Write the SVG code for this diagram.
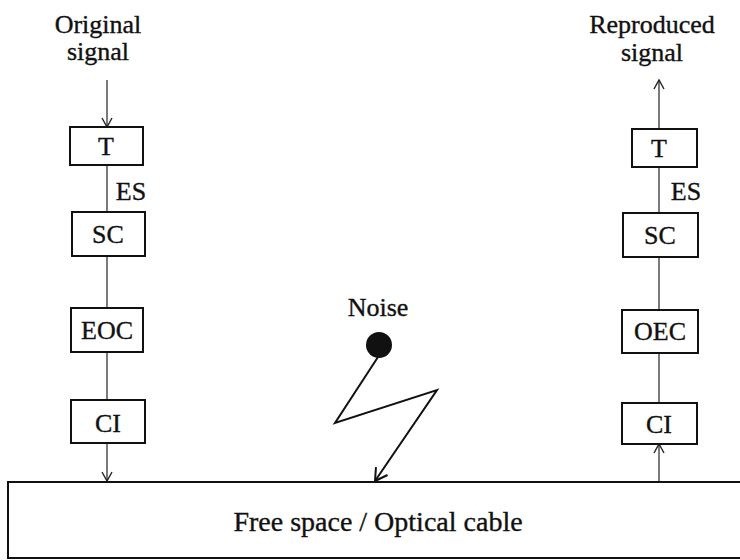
<svg xmlns="http://www.w3.org/2000/svg" width="740" height="560" viewBox="0 0 740 560">
<style>
text{font-family:"Liberation Serif","Times New Roman",serif;fill:#111;stroke:#111;stroke-width:0.35;text-anchor:middle;font-size:26px}
.box{fill:#fff;stroke:#111;stroke-width:2}
.ln{stroke:#333;stroke-width:1.3;fill:none}
</style>
<defs>
<marker id="ah" markerWidth="12" markerHeight="12" refX="10" refY="6" orient="auto" markerUnits="userSpaceOnUse">
<path d="M1,1 L10,6 L1,11" fill="none" stroke="#222" stroke-width="1.4"/>
</marker>
<marker id="ah2" markerWidth="16" markerHeight="16" refX="13" refY="8" orient="auto" markerUnits="userSpaceOnUse">
<path d="M1,1 L13,8 L1,15" fill="none" stroke="#111" stroke-width="2"/>
</marker>
</defs>
<rect width="740" height="560" fill="#fff"/>
<g id="connectors">
<line class="ln" x1="107" y1="80" x2="107" y2="127" marker-end="url(#ah)"/>
<line class="ln" x1="107" y1="165" x2="107" y2="212"/>
<line class="ln" x1="107" y1="256" x2="107" y2="308"/>
<line class="ln" x1="107" y1="352" x2="107" y2="400"/>
<line class="ln" x1="107" y1="443" x2="107" y2="481" marker-end="url(#ah)"/>
<line class="ln" x1="659" y1="129" x2="659" y2="80" marker-end="url(#ah)"/>
<line class="ln" x1="659" y1="213" x2="659" y2="167"/>
<line class="ln" x1="659" y1="310" x2="659" y2="257"/>
<line class="ln" x1="659" y1="403" x2="659" y2="353"/>
<line class="ln" x1="659" y1="482" x2="659" y2="444" marker-end="url(#ah)"/>
<polyline points="378,357 335,423 437,390 375,481" fill="none" stroke="#111" stroke-width="2" marker-end="url(#ah2)"/>
</g>
<g id="label-original">
<text x="98" y="33">Original</text>
<text x="98" y="60">signal</text>
</g>
<g id="label-reproduced">
<text x="652" y="33">Reproduced</text>
<text x="652" y="61">signal</text>
</g>
<g id="es-left"><text x="131" y="200">ES</text></g>
<g id="es-right"><text x="686" y="200">ES</text></g>
<g id="t-left"><rect class="box" x="70" y="127" width="73" height="38"/><text x="106" y="155">T</text></g>
<g id="sc-left"><rect class="box" x="72" y="212" width="73" height="44"/><text x="108" y="243">SC</text></g>
<g id="eoc"><rect class="box" x="71" y="308" width="72" height="44"/><text x="107" y="339">EOC</text></g>
<g id="ci-left"><rect class="box" x="71" y="400" width="74" height="43"/><text x="108" y="432">CI</text></g>
<g id="t-right"><rect class="box" x="632" y="129" width="65" height="38"/><text x="659" y="157">T</text></g>
<g id="sc-right"><rect class="box" x="623" y="213" width="75" height="44"/><text x="660" y="244">SC</text></g>
<g id="oec"><rect class="box" x="622" y="310" width="76" height="43"/><text x="660" y="340">OEC</text></g>
<g id="ci-right"><rect class="box" x="622" y="403" width="75" height="41"/><text x="659" y="433">CI</text></g>
<g id="noise">
<text x="378" y="316">Noise</text>
<circle cx="379" cy="345" r="13" fill="#111"/>
</g>
<g id="medium">
<rect x="8" y="482" width="740" height="76" fill="#fff" stroke="#111" stroke-width="2"/>
<text x="378" y="531" style="font-size:28px">Free space / Optical cable</text>
</g>
</svg>
